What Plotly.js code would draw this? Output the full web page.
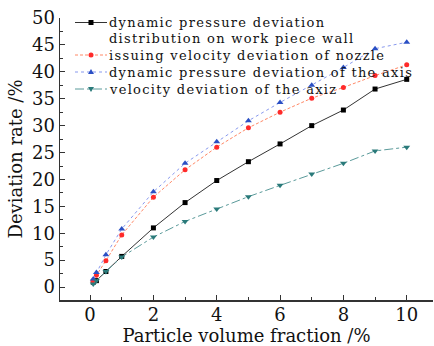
<!DOCTYPE html>
<html><head><meta charset="utf-8">
<script src="https://cdn.plot.ly/plotly-3.0.1.min.js"></script>
<style>html,body{margin:0;padding:0;background:#fff}#c{width:434px;height:346px}
.annotation-text{letter-spacing:1.3px}</style>
</head><body><div id="c"></div>
<script>
const xVals = [0.1, 0.2, 0.5, 1, 2, 3, 4, 5, 6, 7, 8, 9, 10];
const wallPressure = [0.9, 1.2, 2.9, 5.7, 11.0, 15.7, 19.8, 23.3, 26.6, 30.0, 32.9, 36.8, 38.6];
const nozzleVelocity = [1.1, 2.2, 4.9, 9.7, 16.7, 21.8, 26.0, 29.6, 32.5, 35.1, 37.1, 39.3, 41.3];
const axisPressure = [1.5, 2.7, 6.0, 10.8, 17.7, 23.0, 27.0, 30.9, 34.3, 37.5, 40.8, 44.3, 45.5];
const axisVelocity = [0.55, 1.2, 2.9, 5.6, 9.3, 12.2, 14.5, 16.8, 18.9, 21.0, 23.0, 25.3, 26.0];
const names = [
  'dynamic pressure deviation<br>distribution on work piece wall',
  'issuing velocity deviation of nozzle',
  'dynamic pressure deviation of the axis',
  'velocity deviation of the axiz'
];
const xTicks = [0, 2, 4, 6, 8, 10];
const yTicks = [0, 5, 10, 15, 20, 25, 30, 35, 40, 45, 50];

const font = 'DejaVu Serif';
const styles = [
  {line: {color: '#333333', width: 1, dash: 'solid'}, marker: {symbol: 'square', size: 5, color: '#000000'}},
  {line: {color: '#ff8866', width: 1, dash: '3px,2px'}, marker: {symbol: 'circle', size: 5, color: '#ff2a2a'}},
  {line: {color: '#8899ee', width: 1, dash: 'dot'}, marker: {symbol: 'triangle-up', size: 6, color: '#2a4fc4'}},
  {line: {color: '#5a9a9a', width: 1, dash: 'dashdot'}, marker: {symbol: 'triangle-down', size: 6, color: '#2a7a7a'}}
];
const series = [wallPressure, nozzleVelocity, axisPressure, axisVelocity];
const traces = series.map((ys, i) => ({
  x: xVals, y: ys, name: names[i], mode: 'lines+markers',
  line: styles[i].line, marker: styles[i].marker, showlegend: false
}));

// custom legend (layout geometry in pixels of plot area)
const PL = 60, PW = 373, PT = 18, PH = 282;
const px = v => (v - PL) / PW;
const py = v => (PT + PH - v) / PH;
const legendRows = [22.5, 55, 72, 89];     // pixel y of each sample
const legendLines = names.join('<br>').split('<br>');
const textY = [22.5, 38.5, 55, 72, 89];
const annotations = legendLines.map((t, k) => ({
  xref: 'paper', yref: 'paper', x: px(108), y: py(textY[k]), xanchor: 'left', yanchor: 'middle',
  text: t, showarrow: false, borderpad: 0, font: {family: font, size: 13, color: '#111'}
}));
const shapes = [];
legendRows.forEach((y, i) => {
  const st = styles[i];
  shapes.push({type: 'line', xref: 'paper', yref: 'paper', x0: px(75), x1: px(107), y0: py(y), y1: py(y),
    line: {color: st.line.color, width: 1, dash: st.line.dash}});
  const base = {xref: 'paper', yref: 'paper', xsizemode: 'pixel', ysizemode: 'pixel',
    xanchor: px(91), yanchor: py(y), fillcolor: st.marker.color, line: {width: 0}};
  if (i === 0) shapes.push(Object.assign({type: 'rect', x0: -2.5, x1: 2.5, y0: -2.5, y1: 2.5}, base));
  if (i === 1) shapes.push(Object.assign({type: 'circle', x0: -2.5, x1: 2.5, y0: -2.5, y1: 2.5}, base));
  if (i === 2) shapes.push(Object.assign({type: 'path', path: 'M -3 -2 L 3 -2 L 0 3 Z'}, base));
  if (i === 3) shapes.push(Object.assign({type: 'path', path: 'M -3 2 L 3 2 L 0 -3 Z'}, base));
});

const axBase = {
  showgrid: false, zeroline: false, showline: true, linecolor: '#333', linewidth: 1.5,
  ticks: 'inside', ticklen: 5, tickwidth: 1, tickcolor: '#333',
  tickfont: {family: font, size: 18, color: '#111'},
  minor: {ticks: 'inside', ticklen: 3, tickwidth: 1, tickcolor: '#333'}
};
const layout = {
  width: 434, height: 346,
  margin: {l: PL, r: 434 - PL - PW, t: PT, b: 346 - PT - PH},
  paper_bgcolor: '#fff', plot_bgcolor: '#fff',
  showlegend: false,
  annotations: annotations, shapes: shapes,
  xaxis: Object.assign({}, axBase, {range: [-0.95, 10.83], tickvals: xTicks,
    ticklabelstandoff: -2,
    minor: Object.assign({}, axBase.minor, {dtick: 1, tick0: 0}),
    title: {text: 'Particle volume fraction /%', font: {family: font, size: 18, color: '#111'}, standoff: 0}}),
  yaxis: Object.assign({}, axBase, {range: [-2.4, 50], tickvals: yTicks,
    minor: Object.assign({}, axBase.minor, {dtick: 2.5, tick0: 0}),
    title: {text: 'Deviation rate /%', font: {family: font, size: 18, color: '#111'}, standoff: 4}})
};
Plotly.newPlot('c', traces, layout, {staticPlot: true});
</script></body></html>
